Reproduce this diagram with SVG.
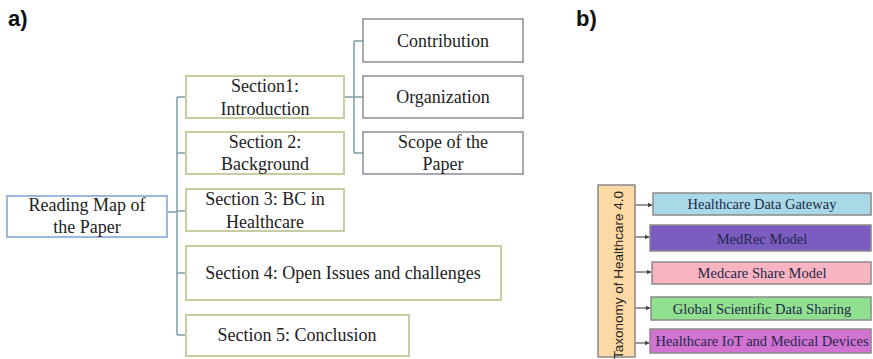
<svg xmlns="http://www.w3.org/2000/svg" width="873" height="359" viewBox="0 0 873 359">
<style>
.lbl{font-family:"Liberation Sans",Arial,sans-serif;font-weight:bold;font-size:22px;fill:#111}
.t{font-family:"Liberation Serif","Times New Roman",serif;font-size:18px;fill:#222;text-anchor:middle}
.tb{font-family:"Liberation Serif","Times New Roman",serif;font-size:14.5px;fill:#1e2848;text-anchor:middle}
.sec{fill:#fff;stroke:#c9cc9e;stroke-width:2}
.root{fill:#fff;stroke:#9db8df;stroke-width:2}
.sub{fill:#fff;stroke:#8c8c98;stroke-width:1.5}
.cb{stroke:#8a8a8a;stroke-width:1.5}
.con{fill:none;stroke:#7b9fa6;stroke-width:1.5}
.arr{fill:none;stroke:#555;stroke-width:1.2;marker-end:url(#ah)}
</style>
<defs>
<marker id="ah" viewBox="0 0 10 10" refX="9" refY="5" markerWidth="5" markerHeight="5" orient="auto" markerUnits="userSpaceOnUse"><path d="M0,0 L10,5 L0,10 z" fill="#444"/></marker>
</defs>
<rect width="873" height="359" fill="#fff"/>
<text class="lbl" x="8" y="26">a)</text>
<text class="lbl" x="576" y="26">b)</text>

<g id="connectors">
<path class="con" d="M167,212 H177 M177,97 V335 M177,97 H186 M177,153 H186 M177,211 H186 M177,273 H186 M177,335 H186"/>
<path class="con" d="M344,97 H354 M354,41 V153 M354,41 H363 M354,97 H363 M354,153 H363"/>
<path class="arr" d="M635,205 H652"/>
<path class="arr" d="M635,237 H649"/>
<path class="arr" d="M635,272 H651"/>
<path class="arr" d="M635,308 H650"/>
<path class="arr" d="M635,343 H649"/>
</g>

<g id="root"><rect class="root" x="7" y="196" width="160" height="41"/>
<text class="t" x="87" y="211">Reading Map of</text><text class="t" x="87" y="233">the Paper</text></g>
<g id="sec1"><rect class="sec" x="186" y="76" width="158" height="42"/>
<text class="t" x="265" y="92">Section1:</text><text class="t" x="265" y="115">Introduction</text></g>
<g id="sec2"><rect class="sec" x="186" y="132" width="158" height="42"/>
<text class="t" x="265" y="148">Section 2:</text><text class="t" x="265" y="170">Background</text></g>
<g id="sec3"><rect class="sec" x="186" y="189" width="158" height="42"/>
<text class="t" x="265" y="205">Section 3: BC in</text><text class="t" x="265" y="228">Healthcare</text></g>
<g id="sec4"><rect class="sec" x="186" y="246" width="315" height="54"/>
<text class="t" x="343" y="279">Section 4: Open Issues and challenges</text></g>
<g id="sec5"><rect class="sec" x="186" y="315" width="223" height="41"/>
<text class="t" x="297" y="341">Section 5: Conclusion</text></g>
<g id="contribution"><rect class="sub" x="363" y="19" width="160" height="43"/>
<text class="t" x="443" y="47">Contribution</text></g>
<g id="organization"><rect class="sub" x="363" y="76" width="160" height="42"/>
<text class="t" x="443" y="103">Organization</text></g>
<g id="scope"><rect class="sub" x="363" y="132" width="160" height="42"/>
<text class="t" x="443" y="148">Scope of the</text><text class="t" x="443" y="170">Paper</text></g>

<g id="taxonomy"><rect x="598" y="185" width="37" height="172" fill="#fdd9a6" stroke="#8a8a8a" stroke-width="1.5"/>
<text transform="translate(623,275) rotate(-90)" x="0" y="0" font-family="Liberation Sans, Arial, sans-serif" font-size="13.5" fill="#222" text-anchor="middle">Taxonomy of Healthcare 4.0</text></g>
<g id="gateway"><rect class="cb" x="653" y="193" width="218" height="22" fill="#a9d8e6"/>
<text class="tb" x="762" y="209">Healthcare Data Gateway</text></g>
<g id="medrec"><rect class="cb" x="650" y="225" width="221" height="26" fill="#7d5cc2"/>
<text class="tb" x="762" y="244">MedRec Model</text></g>
<g id="medcare"><rect class="cb" x="652" y="262" width="219" height="22" fill="#f9b4c2"/>
<text class="tb" x="762" y="278">Medcare Share Model</text></g>
<g id="global"><rect class="cb" x="651" y="297" width="220" height="23" fill="#90e090"/>
<text class="tb" x="762" y="314">Global Scientific Data Sharing</text></g>
<g id="iot"><rect class="cb" x="650" y="329" width="221" height="24" fill="#d272d2"/>
<text class="tb" x="762" y="346">Healthcare IoT and Medical Devices</text></g>
</svg>
